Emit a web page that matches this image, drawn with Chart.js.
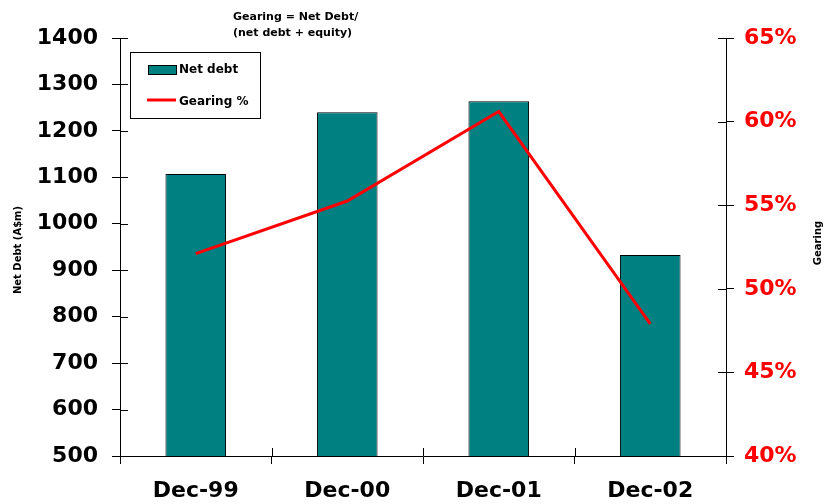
<!DOCTYPE html>
<html>
<head>
<meta charset="utf-8">
<script src="https://cdn.jsdelivr.net/npm/chart.js@4"></script>
<style>
  html, body { margin: 0; padding: 0; background: #fff; }
  canvas { display: block; }
</style>
</head>
<body>
<canvas id="gearingChart" width="826" height="504"></canvas>
<script>
const categories = ['Dec-99', 'Dec-00', 'Dec-01', 'Dec-02'];
const netDebt = [1107, 1240, 1264, 933];
const gearingPct = [52.1, 55.25, 60.6, 47.9];
const debtRange = [500, 1400, 100];
const gearingRange = [40, 65, 5];

const FONT = '"DejaVu Sans", Verdana, sans-serif';

// marks crossing each axis line (Chart.js only draws the outward half)
const innerTicks = {
    id: 'innerTicks',
    afterDraw(chart) {
        const ctx = chart.ctx;
        const { x, y, y1 } = chart.scales;
        ctx.save();
        ctx.strokeStyle = '#000';
        ctx.lineWidth = 1;
        ctx.beginPath();
        y.ticks.forEach(t => {
            const py = Math.round(y.getPixelForValue(t.value)) + 0.5;
            ctx.moveTo(y.right, py);
            ctx.lineTo(y.right + 8, py);
        });
        y1.ticks.forEach(t => {
            const py = Math.round(y1.getPixelForValue(t.value)) + 0.5;
            ctx.moveTo(y1.left - 8, py);
            ctx.lineTo(y1.left, py);
        });
        for (let i = 0; i <= categories.length; i++) {
            const px = Math.round(x.getPixelForValue(i - 0.5)) + 0.5;
            ctx.moveTo(px, x.top - 8);
            ctx.lineTo(px, x.top);
        }
        ctx.stroke();
        ctx.restore();
    }
};

// axis titles, note and the boxed legend inside the plot
const annotations = {
    id: 'annotations',
    afterDraw(chart) {
        const ctx = chart.ctx;
        const area = chart.chartArea;
        ctx.save();
        ctx.fillStyle = '#000';

        ctx.font = 'bold 10px ' + FONT;
        ctx.textAlign = 'center';
        ctx.textBaseline = 'middle';
        ctx.save();
        ctx.translate(18, 250);
        ctx.rotate(-Math.PI / 2);
        ctx.fillText('Net Debt (A$m)', 0, 0);
        ctx.restore();
        ctx.save();
        ctx.translate(818, 243);
        ctx.rotate(-Math.PI / 2);
        ctx.fillText('Gearing', 0, 0);
        ctx.restore();

        ctx.font = 'bold 11px ' + FONT;
        ctx.textAlign = 'left';
        ctx.fillText('Gearing = Net Debt/', 233, 17);
        ctx.fillText('(net debt + equity)', 233, 33);

        // legend box
        const bx = area.left + 10, by = 52, bw = 130, bh = 66;
        ctx.fillStyle = '#fff';
        ctx.fillRect(bx, by, bw, bh);
        ctx.strokeStyle = '#000';
        ctx.lineWidth = 1;
        ctx.strokeRect(bx + 0.5, by + 0.5, bw, bh);

        const bars = chart.data.datasets[0];
        const line = chart.data.datasets[1];
        ctx.fillStyle = bars.backgroundColor;
        ctx.fillRect(bx + 18, by + 13, 28, 9);
        ctx.strokeRect(bx + 18.5, by + 13.5, 28, 9);
        ctx.strokeStyle = line.borderColor;
        ctx.lineWidth = 3;
        ctx.beginPath();
        ctx.moveTo(bx + 17, by + 48);
        ctx.lineTo(bx + 46, by + 48);
        ctx.stroke();

        ctx.fillStyle = '#000';
        ctx.font = 'bold 12px ' + FONT;
        ctx.fillText(bars.label, bx + 49, by + 18);
        ctx.fillText(line.label, bx + 49, by + 50);
        ctx.restore();
    }
};

new Chart(document.getElementById('gearingChart'), {
    data: {
        labels: categories,
        datasets: [
            {
                type: 'bar',
                label: 'Net debt',
                data: netDebt,
                yAxisID: 'y',
                backgroundColor: '#008080',
                borderColor: '#000',
                borderWidth: 1,
                borderSkipped: false,
                categoryPercentage: 1,
                barPercentage: 0.4,
                order: 2
            },
            {
                type: 'line',
                label: 'Gearing %',
                data: gearingPct,
                yAxisID: 'y1',
                borderColor: '#ff0000',
                borderWidth: 3,
                pointRadius: 0,
                tension: 0,
                fill: false,
                order: 1
            }
        ]
    },
    options: {
        responsive: false,
        animation: false,
        layout: { padding: { top: 38, left: 0, right: 0, bottom: 0 } },
        plugins: {
            legend: { display: false },
            tooltip: { enabled: false }
        },
        scales: {
            x: {
                offset: true,
                afterFit: s => { s.height = 48; },
                grid: { offset: true, drawOnChartArea: false, drawTicks: true, tickLength: 8, color: '#000' },
                border: { color: '#000', width: 1 },
                ticks: { color: '#000', padding: 14, maxRotation: 0, font: { family: FONT, size: 22, weight: 'bold' } }
            },
            y: {
                position: 'left',
                min: debtRange[0],
                max: debtRange[1],
                afterFit: s => { s.width = 120; },
                grid: { drawOnChartArea: false, tickLength: 8, color: '#000' },
                border: { color: '#000', width: 1 },
                ticks: {
                    stepSize: debtRange[2],
                    color: '#000',
                    padding: 14,
                    font: { family: FONT, size: 22, weight: 'bold' },
                    callback: v => String(v)
                }
            },
            y1: {
                position: 'right',
                min: gearingRange[0],
                max: gearingRange[1],
                afterFit: s => { s.width = 100; },
                grid: { drawOnChartArea: false, tickLength: 8, color: '#000' },
                border: { color: '#000', width: 1 },
                ticks: {
                    stepSize: gearingRange[2],
                    color: '#ff0000',
                    padding: 10,
                    font: { family: FONT, size: 22, weight: 'bold' },
                    callback: v => v + '%'
                }
            }
        }
    },
    plugins: [innerTicks, annotations]
});
</script>
</body>
</html>
